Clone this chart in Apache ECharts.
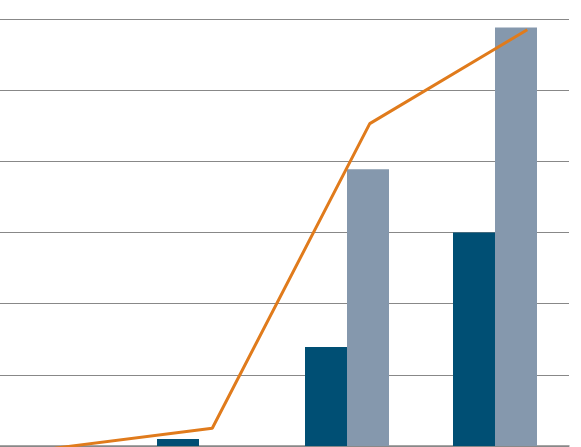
<!DOCTYPE html>
<html>
<head>
<meta charset="utf-8">
<script src="https://cdn.jsdelivr.net/npm/echarts@6/dist/echarts.min.js"></script>
<style>
  html, body { margin: 0; padding: 0; background: #fff; overflow: hidden; }
  #wrap { width: 581px; height: 447px; overflow: hidden; position: relative; }
  /* chart is wider than the window; the left part is cut off like the original */
  #chart { position: absolute; left: -40px; top: 0; width: 661px; height: 447px; }
</style>
</head>
<body>
<div id="wrap"><div id="chart"></div></div>
<script>
// values (one gridline = 10)
const categories = ['A', 'B', 'C', 'D'];
const darkBars = [0, 1, 13.9, 30];
const lightBars = [0, 0, 38.9, 58.8];
const lineValues = [-0.3, 2.5, 45.3, 58.5];

const chart = echarts.init(document.getElementById('chart'));

chart.setOption({
  animation: false,
  grid: [
    { left: 17, right: 52, top: 19, bottom: 1 },
    { left: 16, right: 15, top: 19, bottom: 1 }
  ],
  xAxis: [
    {
      type: 'category', gridIndex: 0, data: categories,
      axisLine: { lineStyle: { color: '#888', width: 1.5 } },
      axisTick: { show: false }, axisLabel: { show: false }
    },
    {
      type: 'category', gridIndex: 1, data: categories,
      axisLine: { show: false }, axisTick: { show: false }, axisLabel: { show: false }
    }
  ],
  yAxis: [
    {
      type: 'value', gridIndex: 0, min: 0, max: 60, interval: 10,
      axisLine: { show: false }, axisTick: { show: false }, axisLabel: { show: false },
      splitLine: { lineStyle: { color: '#888', width: 1.2 } }
    },
    {
      type: 'value', gridIndex: 1, min: 0, max: 60, interval: 10,
      axisLine: { show: false }, axisTick: { show: false }, axisLabel: { show: false },
      splitLine: { show: false }
    }
  ],
  series: [
    {
      type: 'bar', xAxisIndex: 0, yAxisIndex: 0, data: darkBars,
      barWidth: 42, barGap: '0%',
      itemStyle: { color: '#004f74' }
    },
    {
      type: 'bar', xAxisIndex: 0, yAxisIndex: 0, data: lightBars,
      barWidth: 42, barGap: '0%',
      itemStyle: { color: '#8598ad' }
    },
    {
      type: 'line', xAxisIndex: 1, yAxisIndex: 1, data: lineValues,
      symbol: 'none',
      lineStyle: { color: '#e07b1c', width: 3 }
    }
  ]
});
</script>
</body>
</html>
